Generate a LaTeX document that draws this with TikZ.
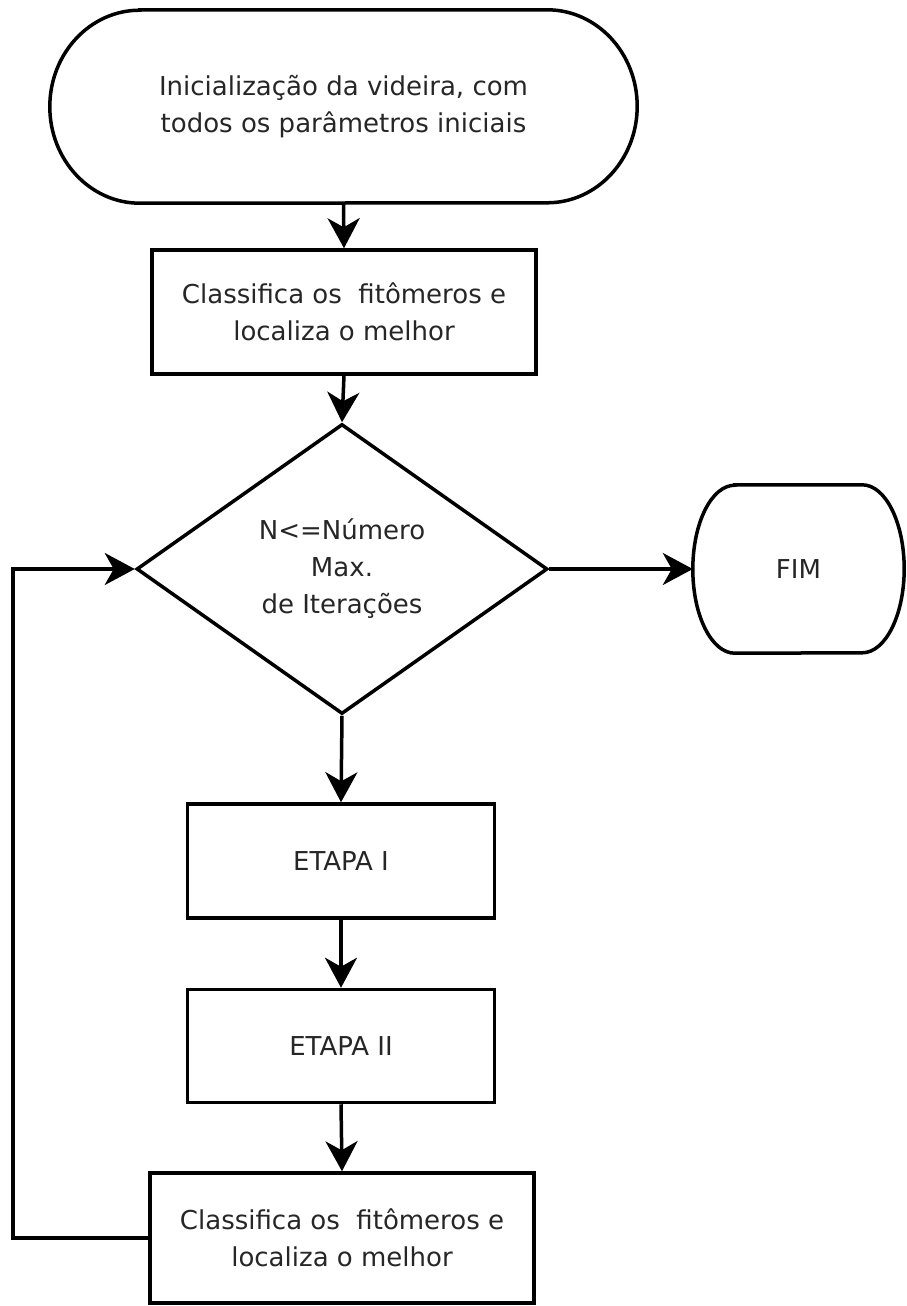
\documentclass[tikz,border=0pt]{standalone}
\usepackage{fontspec}
\setmainfont{DejaVu Sans}
\usetikzlibrary{shapes.geometric}
\usetikzlibrary{arrows.meta}

\begin{document}
\begin{tikzpicture}[x=1pt,y=-1pt,
    every node/.style={font=\fontsize{26}{37}\selectfont, text=black!85, align=center, inner sep=0pt},
    blk/.style={draw, line width=3.5pt},
    con/.style={line width=3.5pt, -{Stealth[length=30pt,width=32pt,inset=9pt]}}]
  \useasboundingbox (0,0) rectangle (906,1306);

  % terminals (outline drawn separately, elliptic ends)
  \node[minimum width=587pt, minimum height=193pt] (start) at (343.5,106.5)
    {Inicialização da videira, com\\todos os parâmetros iniciais};
  \draw[blk] ([xshift=90pt]start.north west) -- ([xshift=-90pt]start.north east)
    arc[start angle=90, end angle=-90, x radius=90pt, y radius=96.5pt]
    -- ([xshift=90pt]start.south west)
    arc[start angle=270, end angle=90, x radius=90pt, y radius=96.5pt] -- cycle;

  \node[minimum width=211pt, minimum height=168pt] (fim) at (798.5,569) {FIM};
  \draw[blk] ([xshift=42pt]fim.north west) -- ([xshift=-42pt]fim.north east)
    arc[start angle=90, end angle=-90, x radius=42pt, y radius=84pt]
    -- ([xshift=42pt]fim.south west)
    arc[start angle=270, end angle=90, x radius=42pt, y radius=84pt] -- cycle;

  % process boxes
  \node[blk, minimum width=384pt, minimum height=124pt] (classA) at (344,312)
    {Classifica os~ fitômeros e\\localiza o melhor};
  \node[blk, diamond, minimum width=411pt, minimum height=290pt] (dec) at (342,569)
    {\fontsize{26}{35}\selectfont N<=Número\\Max.\\de Iterações};
  \node[blk, minimum width=307pt, minimum height=114pt] (etapaA) at (341,861) {ETAPA I};
  \node[blk, minimum width=307pt, minimum height=113pt] (etapaB) at (341,1046) {ETAPA II};
  \node[blk, minimum width=384pt, minimum height=130pt] (classB) at (342,1238)
    {Classifica os~ fitômeros e\\localiza o melhor};
  \coordinate (loop) at (13,1238);

  % connectors
  \draw[con] (start.south) -- (classA.north);
  \draw[con] (classA.south) -- (dec.north);
  \draw[con] (dec.east) -- (fim.west);
  \draw[con] (dec.south) -- (etapaA.north);
  \draw[con] (etapaA.south) -- (etapaB.north);
  \draw[con] (etapaB.south) -- (classB.north);
  \draw[con] (classB.west) -- (loop) |- (dec.west);
\end{tikzpicture}
\end{document}
